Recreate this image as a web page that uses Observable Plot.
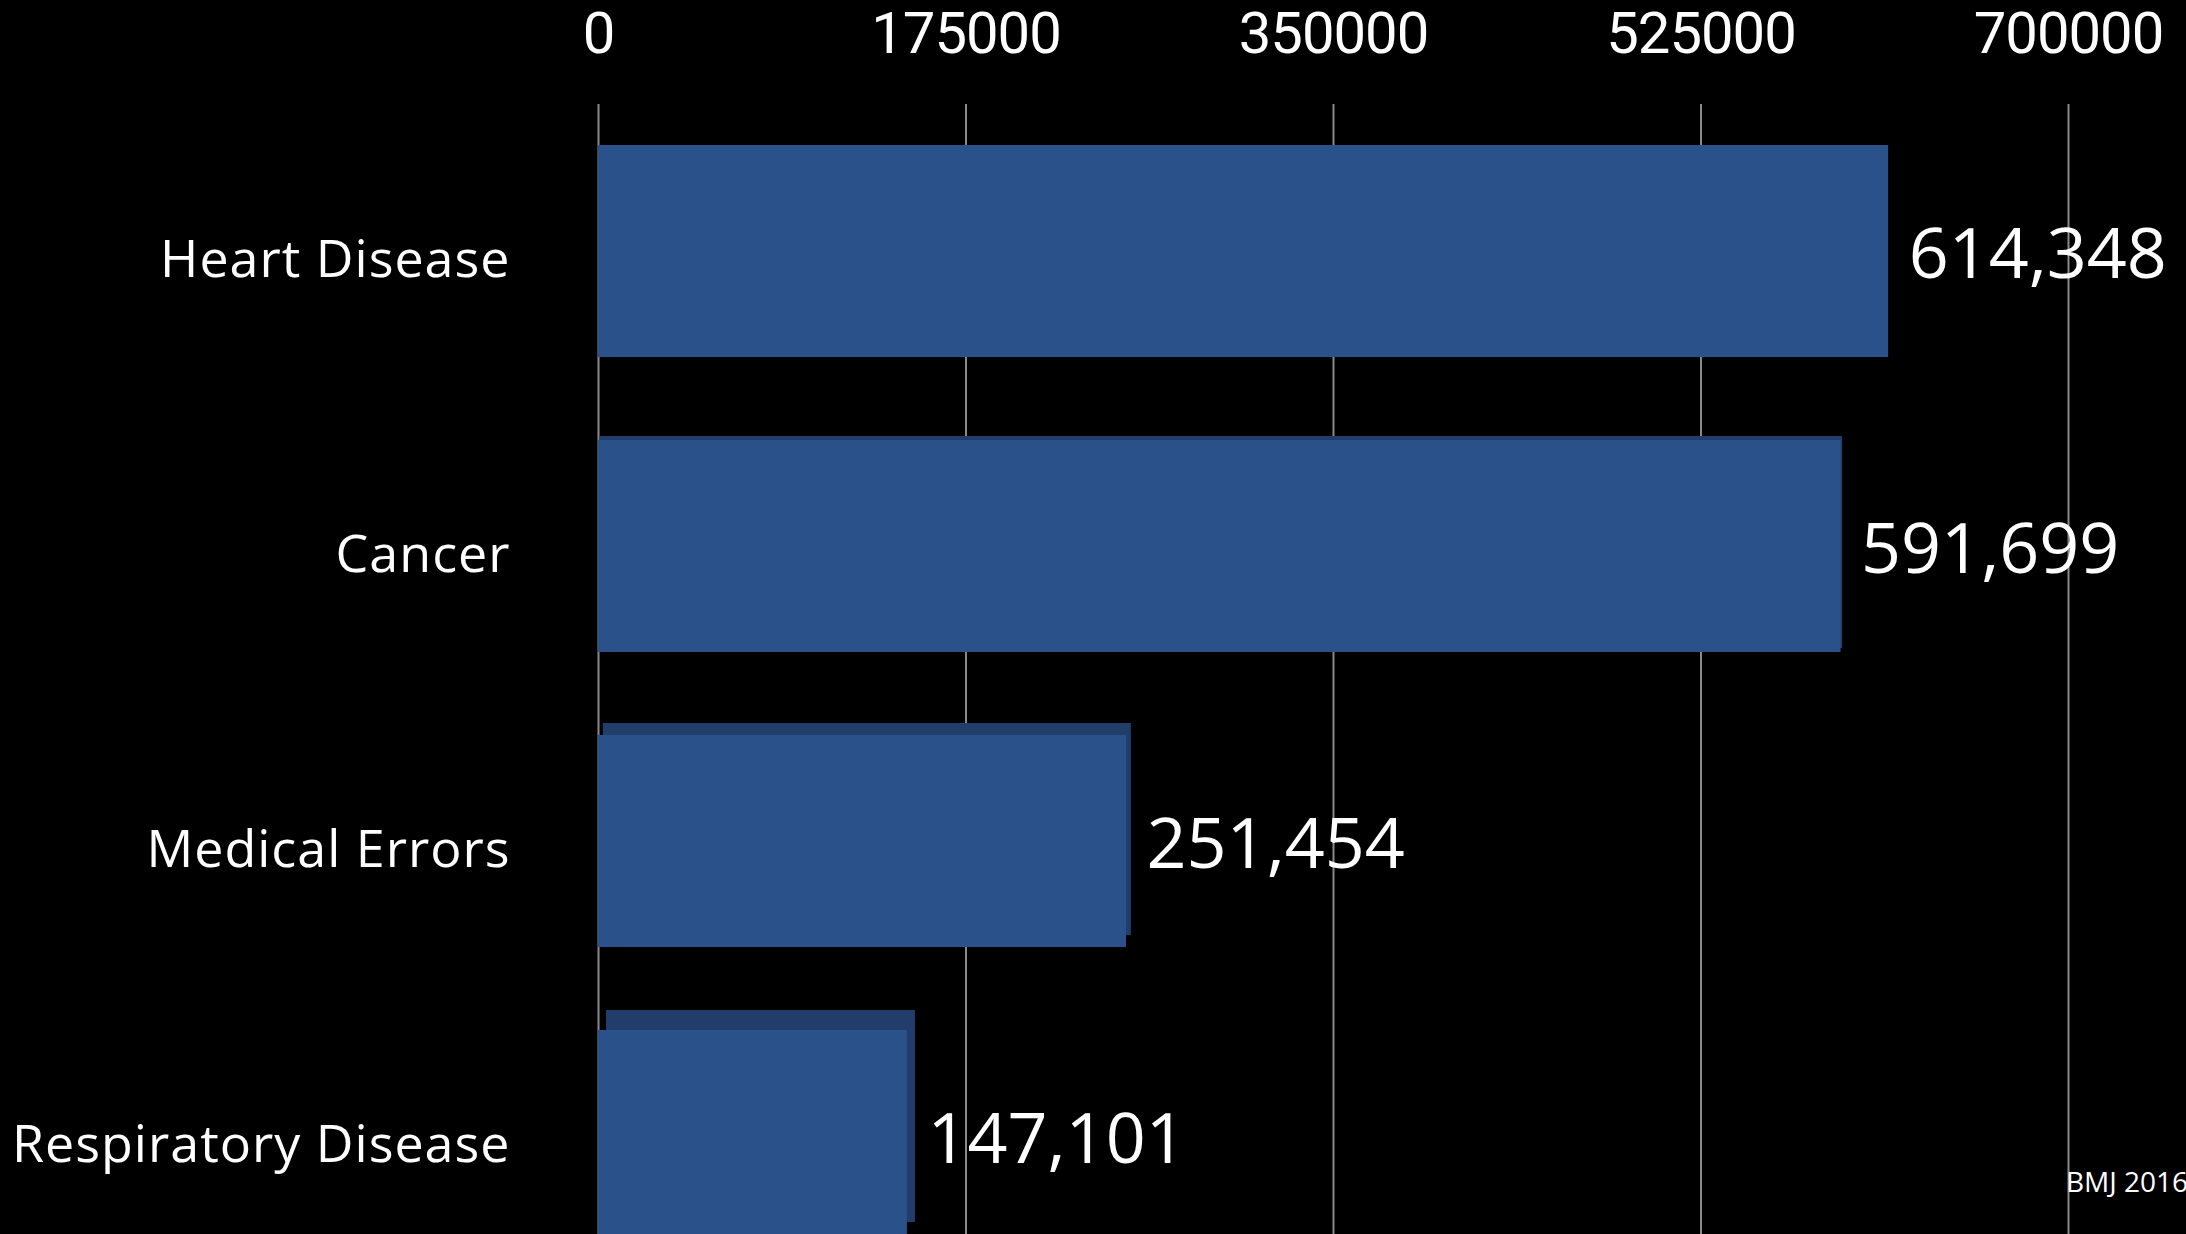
<!DOCTYPE html>
<html>
<head>
<meta charset="utf-8">
<script src="https://cdn.jsdelivr.net/npm/d3@7"></script>
<script src="https://cdn.jsdelivr.net/npm/@observablehq/plot@0.6"></script>
<style>
  html, body { margin: 0; padding: 0; background: #000; overflow: hidden; }
  #wrap { position: relative; width: 2186px; height: 1234px; background: #000; }
  #caption { position: absolute; left: 2066px; top: 1167px; font-family: "Open Sans", sans-serif; font-size: 28px; line-height: 1; color: #fff; white-space: nowrap; }
</style>
</head>
<body>
<div id="wrap"><div id="caption"></div></div>
<script>
// Data
const causes = ["Heart Disease", "Cancer", "Medical Errors", "Respiratory Disease"];
const deaths = [614348, 591699, 251454, 147101];
const xTicks = [0, 175000, 350000, 525000, 700000];
const caption = "BMJ 2016";

// Styling only: apparent 3D depth of each bar's top/side face (px)
const barDepth = [0, 4, 12, 20];

const data = causes.map((c, i) => ({cause: c, deaths: deaths[i]}));

const faceMarks = causes.map((c, i) => barDepth[i] > 0
  ? Plot.barX(data.filter(d => d.cause === c), {
      x: "deaths", y: "cause", fill: "#213e6b",
      dx: barDepth[i] * 0.4, dy: -barDepth[i]
    })
  : null).filter(Boolean);

const chart = Plot.plot({
  width: 2186,
  height: 1234,
  marginLeft: 598,
  marginRight: 118,
  marginTop: 104,
  marginBottom: -50,
  style: {background: "#000", color: "#fff", fontFamily: "'Open Sans', sans-serif", overflow: "hidden"},
  x: {domain: [0, 700000]},
  y: {domain: causes, paddingInner: 0.281, paddingOuter: 0.1405},
  marks: [
    Plot.gridX(xTicks, {stroke: "#8a8a8a", strokeOpacity: 1, strokeWidth: 2}),
    ...faceMarks,
    Plot.barX(data, {x: "deaths", y: "cause", fill: "#2a5189"}),
    Plot.text(data, {
      x: "deaths", y: "cause",
      text: d => d3.format(",")(d.deaths),
      textAnchor: "start", dx: 20, dy: 4,
      fontSize: 70, fill: "#fff"
    }),
    Plot.axisX({
      anchor: "top", ticks: xTicks, tickFormat: d3.format("d"),
      tickSize: 0, tickPadding: 52, fontSize: 58, fontFamily: "Roboto, sans-serif",
      label: null, fill: "#fff"
    }),
    Plot.axisY({
      anchor: "left", tickSize: 0, tickPadding: 88, fontSize: 52,
      label: null, dy: 9, fill: "#fff"
    })
  ]
});

d3.select(chart).selectAll("g[aria-label='y-axis tick label'] text").style("letter-spacing", "1px");
d3.select(chart).selectAll("g[aria-label='x-axis tick label'] text").style("letter-spacing", "-1px");

document.getElementById("wrap").prepend(chart);
document.getElementById("caption").textContent = caption;
</script>
</body>
</html>
